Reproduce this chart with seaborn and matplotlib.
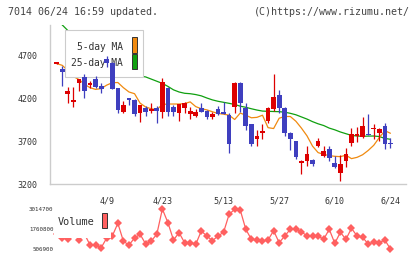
import numpy as np
import pandas as pd
import seaborn as sns
import matplotlib.pyplot as plt
from matplotlib.patches import Rectangle

# daily candles (trading days 3/27 .. 6/24)
opens = [4600, 4540, 4250, 4155, 4380, 4440, 4355, 4420, 4340, 4650,
         4610, 4315, 4035, 4195, 4180, 4020, 4085, 4052, 4085, 4040,
         4320, 4100, 4030, 4087, 4015, 3995, 4087, 4050, 3976, 4072,
         4040, 4005, 4090, 4380, 4085, 3898, 3727, 3797, 3936, 4072,
         4235, 4087, 3797, 3700, 3448, 3471, 3479, 3642, 3526, 3607,
         3441, 3331, 3471, 3680, 3762, 3743, 3772, 3836, 3790, 3874, 3665]
highs = [4606, 4575, 4330, 4330, 4420, 4480, 4400, 4455, 4378, 4690,
         4615, 4320, 4165, 4200, 4185, 4120, 4110, 4145, 4107, 4436,
         4325, 4119, 4135, 4157, 4099, 4068, 4145, 4060, 4041, 4107,
         4150, 4020, 4385, 4385, 4140, 3900, 3828, 3898, 4090, 4475,
         4293, 4095, 3808, 3705, 3475, 3642, 3485, 3731, 3642, 3642,
         3529, 3537, 3615, 3855, 3867, 3976, 4014, 3898, 3855, 3913, 3731]
lows = [4600, 4345, 4140, 4090, 4285, 4205, 4320, 4320, 4255, 4565,
        4300, 4030, 4022, 4120, 3995, 3925, 3985, 4022, 3913, 3964,
        3985, 3990, 3935, 4029, 3956, 3976, 4035, 3956, 3956, 4000,
        4010, 3565, 4030, 4040, 3828, 3645, 3645, 3720, 3913, 4049,
        4029, 3758, 3595, 3487, 3316, 3409, 3413, 3634, 3510, 3471,
        3382, 3238, 3401, 3642, 3692, 3731, 3765, 3720, 3700, 3607, 3622]
closes = [4606, 4505, 4285, 4175, 4420, 4285, 4370, 4330, 4305, 4612,
          4305, 4060, 4118, 4175, 4015, 4120, 4040, 4075, 4045, 4390,
          4040, 4040, 4130, 4145, 4052, 4035, 4041, 3976, 4014, 4010,
          4015, 3670, 4380, 4145, 3878, 3665, 3758, 3816, 4087, 4208,
          4087, 3797, 3727, 3518, 3471, 3549, 3433, 3700, 3587, 3506,
          3394, 3433, 3549, 3778, 3770, 3874, 3768, 3848, 3836, 3665, 3660]

ma5 = [4600, 4580, 4520, 4450, 4415, 4360, 4320, 4300, 4310, 4350,
       4378, 4380, 4320, 4270, 4250, 4140, 4095, 4075, 4065, 4125,
       4130, 4130, 4130, 4135, 4155, 4100, 4075, 4062, 4040, 4020,
       4012, 4000, 3950, 4025, 4000, 3970, 3975, 4000, 3855, 3845,
       3965, 3985, 3985, 3930, 3850, 3760, 3640, 3565, 3545, 3530,
       3522, 3518, 3535, 3495, 3510, 3540, 3590, 3650, 3740, 3820, 3790]
ma25 = [5110, 5050, 4985, 4930, 4880, 4830, 4790, 4745, 4700, 4660,
        4620, 4580, 4540, 4500, 4470, 4455, 4445, 4420, 4395, 4370,
        4335, 4295, 4270, 4255, 4250, 4240, 4225, 4200, 4178, 4162,
        4150, 4138, 4125, 4105, 4092, 4075, 4060, 4048, 4045, 4043,
        4041, 4035, 4022, 4005, 3980, 3955, 3925, 3900, 3880, 3850,
        3830, 3805, 3785, 3765, 3758, 3755, 3757, 3758, 3752, 3730, 3720]

volume = [1447300, 1215400, 1115000, 1510000, 1071200, 1447300, 757700, 757700, 588400, 1196500,
          1321900, 2118200, 989700, 757700, 1196500, 1428500, 820400, 1008500, 1428500, 3014700,
          2155800, 1071200, 1528800, 901900, 901900, 801600, 1635400, 1321900, 1027300, 1321900,
          1553900, 2682400, 2995900, 2952000, 1742000, 1115000, 1071200, 1008500, 1071200, 1654200,
          901900, 1321900, 1742000, 1742000, 1591500, 1321900, 1321900, 1321900, 1115000, 1742000,
          864300, 1553900, 1115000, 1804700, 1321900, 1240400, 820400, 927000, 901900, 1071200, 506900]

date_pos = [9, 19, 30, 40, 50, 60]
date_labels = ['4/9', '4/23', '5/13', '5/27', '6/10', '6/24']
price_ticks = [3200, 3700, 4200, 4700]
vol_ticks = [506900, 1760800, 3014700]

df = pd.DataFrame({'day': np.arange(len(closes)), 'open': opens, 'high': highs,
                   'low': lows, 'close': closes, 'ma5': ma5, 'ma25': ma25,
                   'volume': volume})

sns.set_style('white')
plt.rcParams['font.family'] = ['DejaVu Sans Mono']

W, H = 420, 259
fig = plt.figure(figsize=(4.2, 2.59), dpi=100)
ax = fig.add_axes([50 / W, 1 - 184 / H, 356 / W, 159 / H])
vax = fig.add_axes([50 / W, 1 - 253 / H, 356 / W, 48 / H])

RED, BLUE = '#dd0000', '#3f3fbf'
GRID = '#cccccc'

# moving averages (below the legend box)
sns.lineplot(data=df, x='day', y='ma25', ax=ax, color='#10a010', lw=0.9, zorder=2)
sns.lineplot(data=df, x='day', y='ma5', ax=ax, color='#f08a10', lw=0.9, zorder=2)

# candles (above the legend box)
up = df['close'] >= df['open']
cols = np.where(up, RED, BLUE)
ax.vlines(df['day'], df['low'], df['high'], colors=cols, lw=0.9, zorder=5)
bottom = np.minimum(df['open'], df['close'])
height = np.maximum((df['close'] - df['open']).abs(), 14)
ax.bar(df['day'], height, bottom=bottom, width=0.84, color=cols, lw=0, zorder=6)

ax.set_xlim(-1.2, 62.8)
ax.set_ylim(3200, 5049)
ax.set_xlabel('')
ax.set_ylabel('')
for s in ['top', 'right']:
    ax.spines[s].set_visible(False)
for s in ['left', 'bottom']:
    ax.spines[s].set_color(GRID)
    ax.spines[s].set_linewidth(1)

ax.set_yticks(price_ticks)
ax.set_yticklabels([str(t) for t in price_ticks])
ax.tick_params(axis='y', direction='inout', length=8, width=1, color=GRID,
               labelsize=6, labelcolor='#333333', pad=5)
ax.set_xticks(date_pos)
ax.set_xticklabels(date_labels)
ax.set_xticks(np.linspace(-1.2, 62.8, 12), minor=True)
ax.tick_params(axis='x', which='major', length=0, labelsize=6,
               labelcolor='#333333', pad=9)
ax.tick_params(axis='x', which='minor', direction='inout', length=9,
               width=1, color=GRID)

# legend box for the moving averages
def px(x, y):
    return x / W, 1 - y / H

tf = fig.transFigure
ax.add_patch(Rectangle(px(65, 77), 78 / W, 47 / H, transform=tf, facecolor='white',
                       edgecolor='#cccccc', lw=0.8, zorder=3, clip_on=False))
ax.text(*px(77, 47), '5-day MA', transform=tf, fontsize=6.9, color='#333333',
        va='center', ha='left', zorder=4)
ax.text(*px(71, 63), '25-day MA', transform=tf, fontsize=6.9, color='#333333',
        va='center', ha='left', zorder=4)
ax.add_patch(Rectangle(px(132, 53), 5 / W, 16 / H, transform=tf, facecolor='#f08a10',
                       edgecolor='#333333', lw=0.7, zorder=4, clip_on=False))
ax.add_patch(Rectangle(px(132, 69), 5 / W, 15 / H, transform=tf, facecolor='#10a010',
                       edgecolor='#333333', lw=0.7, zorder=4, clip_on=False))

# volume panel
sns.lineplot(data=df, x='day', y='volume', ax=vax, color='#ff6060', lw=0.9,
             marker='D', markersize=4, markeredgewidth=0, zorder=2)
for l in vax.lines:
    l.set_clip_on(False)
vax.set_xlim(-1.2, 62.8)
vax.set_ylim(256120, 3265480)
vax.set_xlabel('')
vax.set_ylabel('')
for s in vax.spines.values():
    s.set_visible(False)
vax.set_xticks([])
vax.set_yticks(vol_ticks)
vax.set_yticklabels([str(t) for t in vol_ticks])
vax.tick_params(axis='y', length=0, labelsize=4.2, labelcolor='#333333', pad=-2.5)
vax.add_patch(Rectangle(px(54, 237.5), 57 / W, 31 / H, transform=tf, facecolor='white',
                        edgecolor='none', zorder=3, clip_on=False))
vax.text(*px(58, 222), 'Volume', transform=tf, fontsize=7.4, color='#333333',
         va='center', ha='left', zorder=4)
vax.add_patch(Rectangle(px(102, 228), 5 / W, 15 / H, transform=tf, facecolor='#ff6060',
                        edgecolor='#333333', lw=0.7, zorder=4, clip_on=False))

fig.text(*px(8, 12), '7014 06/24 16:59 updated.', fontsize=7.2, color='#444444',
         va='center', ha='left')
fig.text(*px(410, 12), '(C)https://www.rizumu.net/', fontsize=7.2, color='#444444',
         va='center', ha='right')

fig.savefig('out.png', dpi=100)
